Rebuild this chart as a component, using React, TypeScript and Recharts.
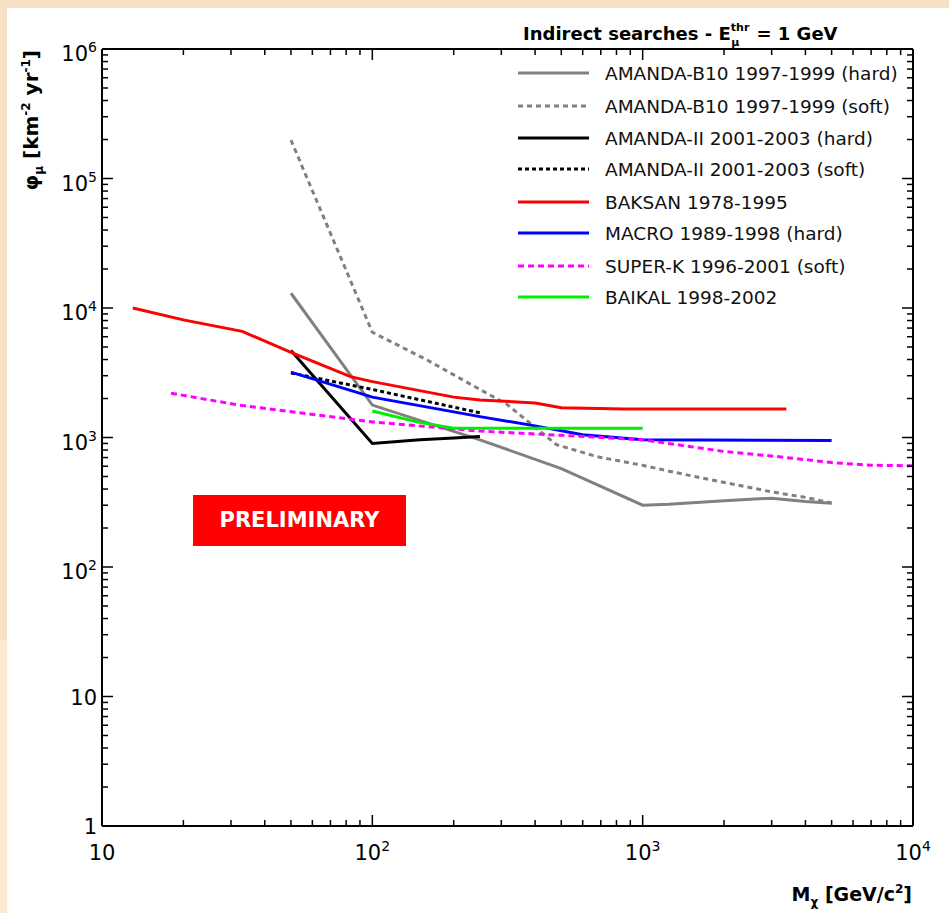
import React from 'react';
import { LineChart, Line, XAxis, YAxis } from 'recharts';

// ---- data: [mass GeV/c^2, flux km^-2 yr^-1] ----
const amandaB10Hard = [[50, 13000], [100, 1780], [250, 960], [500, 575], [1000, 300], [1250, 305], [2000, 325], [3000, 340], [4000, 320], [5000, 310]];
const amandaB10Soft = [[50, 198000], [100, 6500], [160, 3950], [250, 2350], [315, 1800], [400, 1200], [480, 880], [680, 710], [1000, 610], [1300, 540], [1800, 470], [3000, 380], [4000, 345], [5000, 312]];
const amandaIIHard = [[50, 4700], [100, 900], [150, 960], [200, 990], [250, 1020]];
const amandaIISoft = [[50, 3150], [100, 2350], [250, 1550]];
const baksan = [[13, 10000], [20, 8100], [33, 6600], [50, 4550], [83, 2950], [100, 2700], [200, 2050], [250, 1950], [400, 1850], [500, 1700], [850, 1660], [3400, 1660]];
const macro = [[50, 3200], [100, 2050], [250, 1450], [400, 1230], [600, 1050], [1000, 960], [5000, 950]];
const superK = [[18, 2200], [32, 1780], [100, 1320], [250, 1120], [500, 1040], [1000, 960], [2000, 780], [3200, 710], [5000, 640], [7000, 610], [10000, 605]];
const baikal = [[100, 1600], [146, 1320], [200, 1180], [1000, 1180]];

const seriesNames = [
  'AMANDA-B10 1997-1999 (hard)',
  'AMANDA-B10 1997-1999 (soft)',
  'AMANDA-II 2001-2003 (hard)',
  'AMANDA-II 2001-2003 (soft)',
  'BAKSAN 1978-1995',
  'MACRO 1989-1998 (hard)',
  'SUPER-K 1996-2001 (soft)',
  'BAIKAL 1998-2002',
];
const seriesData = [amandaB10Hard, amandaB10Soft, amandaIIHard, amandaIISoft, baksan, macro, superK, baikal];
const seriesColors = ['#808080', '#808080', '#000000', '#000000', '#ff0000', '#0000ff', '#ff00ff', '#00ee00'];
const seriesDash = [undefined, '5 4', undefined, '4 3', undefined, undefined, '6 4', undefined];

const xMajor = [10, 100, 1000, 10000];
const yMajor = [1, 10, 100, 1000, 10000, 100000, 1000000];
const mult = [1, 2, 3, 4, 5, 6, 7, 8, 9];
const xTicks = xMajor.slice(0, -1).flatMap((d) => mult.map((m) => d * m)).concat([10000]);
const yTicks = yMajor.slice(0, -1).flatMap((d) => mult.map((m) => d * m)).concat([1000000]);

const FONT = '"DejaVu Sans", sans-serif';

const isMajor = (v: number) => Math.abs(Math.log10(v) - Math.round(Math.log10(v))) < 1e-6;

const Label10 = ({ v, x, y, anchor }: any) => {
  const e = Math.round(Math.log10(v));
  if (e === 0) return <text x={x} y={y} textAnchor={anchor} fontFamily={FONT} fontSize={21} fill="#000">1</text>;
  if (e === 1) return <text x={x} y={y} textAnchor={anchor} fontFamily={FONT} fontSize={21} fill="#000">10</text>;
  return (
    <text x={x} y={y} textAnchor={anchor} fontFamily={FONT} fontSize={21} fill="#000">
      10<tspan dy={-9} fontSize={14}>{e}</tspan>
    </text>
  );
};

const BottomTick = (props: any) => {
  const { x, y, payload } = props;
  const v = payload.value;
  const maj = isMajor(v);
  return (
    <g>
      <line x1={x} y1={y} x2={x} y2={y - (maj ? 11 : 6)} stroke="#000" strokeWidth={1.5} />
      {maj && <Label10 v={v} x={x} y={y + 34} anchor="middle" />}
    </g>
  );
};
const TopTick = (props: any) => {
  const { x, y, payload } = props;
  const maj = isMajor(payload.value);
  return <line x1={x} y1={y} x2={x} y2={y + (maj ? 11 : 6)} stroke="#000" strokeWidth={1.5} />;
};
const LeftTick = (props: any) => {
  const { x, y, payload } = props;
  const v = payload.value;
  const maj = isMajor(v);
  const e = Math.round(Math.log10(v));
  return (
    <g>
      <line x1={x} y1={y} x2={x + (maj ? 11 : 6)} y2={y} stroke="#000" strokeWidth={1.5} />
      {maj && <Label10 v={v} x={x - 5} y={y + (e >= 2 ? 12 : 8)} anchor="end" />}
    </g>
  );
};
const RightTick = (props: any) => {
  const { x, y, payload } = props;
  const maj = isMajor(payload.value);
  return <line x1={x} y1={y} x2={x - (maj ? 11 : 6)} y2={y} stroke="#000" strokeWidth={1.5} />;
};

export default function App() {
  const legendY = [73, 106, 138, 169, 202, 233, 266, 297];
  return (
    <div style={{ position: 'absolute', left: 0, top: 0, width: 949, height: 913, background: '#f7e1c5', overflow: 'hidden' }}>
      <div style={{ position: 'absolute', left: 0, top: 640, width: 7, height: 273, background: '#fce9d1' }} />
      <div style={{ position: 'absolute', left: 7, top: 8, width: 942, height: 905, background: '#ffffff' }} />
      <div style={{ position: 'absolute', left: 0, top: 0 }}>
        <LineChart width={949} height={913} margin={{ top: 48, right: 35, bottom: 86, left: 101 }}>
          <XAxis xAxisId="b" dataKey="x" type="number" scale="log" domain={[10, 10000]} allowDataOverflow
            ticks={xTicks} interval={0} tick={<BottomTick />} tickLine={false} tickSize={0} tickMargin={0} height={1}
            axisLine={{ stroke: '#000', strokeWidth: 2 }} />
          <XAxis xAxisId="t" orientation="top" dataKey="x" type="number" scale="log" domain={[10, 10000]} allowDataOverflow
            ticks={xTicks} interval={0} tick={<TopTick />} tickLine={false} tickSize={0} tickMargin={0} height={1}
            axisLine={{ stroke: '#000', strokeWidth: 2 }} />
          <YAxis yAxisId="l" dataKey="y" type="number" scale="log" domain={[1, 1000000]} allowDataOverflow
            ticks={yTicks} interval={0} tick={<LeftTick />} tickLine={false} tickSize={0} tickMargin={0} width={1}
            axisLine={{ stroke: '#000', strokeWidth: 2 }} />
          <YAxis yAxisId="r" orientation="right" dataKey="y" type="number" scale="log" domain={[1, 1000000]} allowDataOverflow
            ticks={yTicks} interval={0} tick={<RightTick />} tickLine={false} tickSize={0} tickMargin={0} width={1}
            axisLine={{ stroke: '#000', strokeWidth: 2 }} />
          {seriesData.map((d, i) => (
            <Line key={seriesNames[i]} xAxisId="b" yAxisId="l" data={d.map(([x, y]) => ({ x, y }))} dataKey="y"
              type="linear" stroke={seriesColors[i]} strokeWidth={3} strokeDasharray={seriesDash[i]}
              dot={false} activeDot={false} isAnimationActive={false} name={seriesNames[i]} />
          ))}
        </LineChart>
      </div>
      <svg width={949} height={913} style={{ position: 'absolute', left: 0, top: 0, pointerEvents: 'none' }}>
        <text x={523} y={40} fontFamily={FONT} fontWeight="bold" fontSize={18} fill="#000">
          Indirect searches - E<tspan dy={-9} fontSize={11}>thr</tspan><tspan dx={-18} dy={15} fontSize={11}>μ</tspan><tspan dx={17} dy={-6}>= 1 GeV</tspan>
        </text>
        {seriesNames.map((n, i) => (
          <g key={n}>
            <line x1={518} x2={589} y1={legendY[i]} y2={legendY[i]} stroke={seriesColors[i]} strokeWidth={3} strokeDasharray={seriesDash[i]} />
            <text x={605} y={legendY[i] + 7} fontFamily={FONT} fontSize={18.5} fill="#111">{n}</text>
          </g>
        ))}
        <g transform="translate(38,50) rotate(-90)">
          <text x={0} y={0} textAnchor="end" fontFamily={FONT} fontWeight="bold" fontSize={20} fill="#000">
            φ<tspan dy={5} fontSize={12}>μ</tspan><tspan dy={-5}> [km</tspan><tspan dy={-8} fontSize={12}>-2</tspan><tspan dy={8}> yr</tspan><tspan dy={-8} fontSize={12}>-1</tspan><tspan dy={8}>]</tspan>
          </text>
        </g>
        <text x={912} y={901} textAnchor="end" fontFamily={FONT} fontWeight="bold" fontSize={19} fill="#000">
          M<tspan dy={5} fontSize={12}>χ</tspan><tspan dy={-5}> [GeV/c</tspan><tspan dy={-8} fontSize={12}>2</tspan><tspan dy={8}>]</tspan>
        </text>
      </svg>
      <div style={{ position: 'absolute', left: 193, top: 495, width: 213, height: 51, background: '#ff0000', color: '#fff',
        fontFamily: '"DejaVu Sans", sans-serif', fontWeight: 'bold', fontSize: 21, lineHeight: '51px', textAlign: 'center', letterSpacing: 0 }}>
        PRELIMINARY
      </div>
    </div>
  );
}
